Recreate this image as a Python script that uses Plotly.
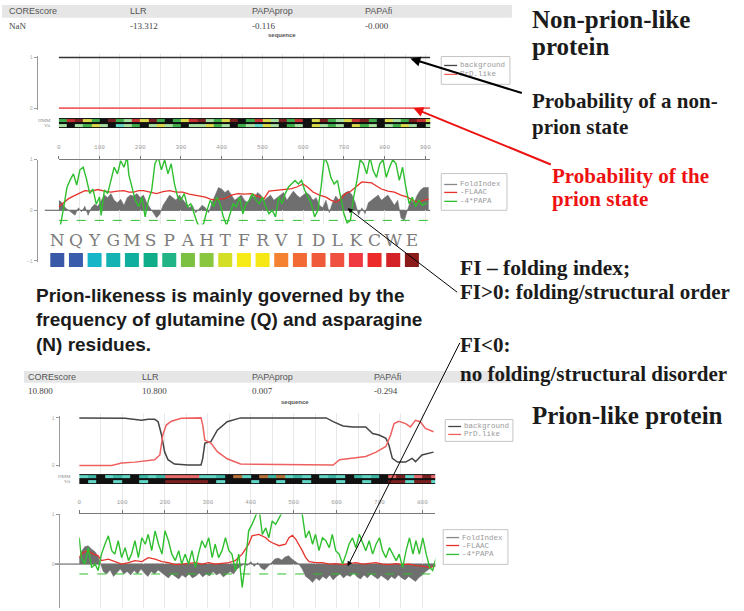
import plotly.graph_objects as go

W, H = 744, 611


def px(x):
    return x / W


def py(y):
    return 1 - y / H


def dom_x(a, b):
    return [a / W, b / W]


def dom_y(top, bottom):
    return [1 - bottom / H, 1 - top / H]


# ------------------------------------------------------------------ data
HEADER_LABELS = ["COREscore", "LLR", "PAPAprop", "PAPAfi"]
TOP_SCORES = ["NaN", "-13.312", "-0.116", "-0.000"]
BOTTOM_SCORES = ["10.800", "10.800", "0.007", "-0.294"]

SEQ_TICKS_TOP = [0, 100, 200, 300, 400, 500, 600, 700, 800, 900]
SEQ_TICKS_BOTTOM = [0, 100, 200, 300, 400, 500, 600, 700, 800]

LEGEND_STATE = ["background", "PrD.like"]
LEGEND_FOLD = ["FoldIndex", "-FLAAC", "-4*PAPA"]

# non-prion-like protein : state probabilities (residue, prob)
TOP_BACKGROUND = [(0, 1.0), (100, 1.0), (200, 1.0), (300, 1.0), (400, 1.0), (500, 1.0),
                  (600, 1.0), (700, 1.0), (800, 1.0), (900, 1.0), (912, 1.0)]
TOP_PRD = [(0, 0.0), (100, 0.0), (200, 0.0), (300, 0.0), (400, 0.0), (500, 0.0),
           (600, 0.0), (700, 0.0), (800, 0.0), (900, 0.0), (912, 0.0)]

# non-prion-like protein : FoldIndex, -FLAAC, -4*PAPA
TOP_FOLDINDEX = [
    (0, 0.2), (8, 0.15), (16, 0.05), (24, 0.0), (32, -0.05), (40, -0.1), (48, 0.05), (56, -0.03),
    (64, 0.08), (72, -0.1), (80, 0.05), (88, 0.12), (96, 0.08), (104, 0.2), (112, 0.3), (120, 0.25),
    (128, 0.33), (136, 0.2), (144, 0.15), (152, 0.22), (160, 0.1), (168, 0.25), (176, 0.3), (184, 0.28),
    (192, 0.33), (200, 0.25), (208, 0.3), (216, 0.15), (224, 0.05), (232, -0.05), (240, -0.15), (248, -0.08),
    (256, 0.1), (264, 0.2), (272, 0.3), (280, 0.25), (288, 0.2), (296, 0.3), (304, 0.22), (312, 0.15),
    (320, 0.05), (328, 0.1), (336, -0.05), (344, 0.02), (352, 0.1), (360, 0.05), (368, -0.05), (376, 0.15),
    (384, 0.3), (392, 0.45), (400, 0.42), (408, 0.35), (416, 0.4), (424, 0.3), (432, 0.2), (440, 0.25),
    (448, 0.3), (456, 0.2), (464, 0.15), (472, 0.3), (480, 0.25), (488, 0.35), (496, 0.3), (504, 0.2),
    (512, 0.25), (520, 0.3), (528, 0.2), (536, 0.25), (544, 0.3), (552, 0.35), (560, 0.2), (568, 0.3),
    (576, 0.38), (584, 0.3), (592, 0.25), (600, 0.3), (608, 0.35), (616, 0.3), (624, 0.2), (632, 0.25),
    (640, 0.1), (648, 0.05), (656, 0.2), (664, -0.05), (672, 0.15), (680, 0.28), (688, 0.2), (696, 0.3),
    (704, 0.35), (712, 0.38), (720, 0.3), (728, 0.15), (736, -0.1), (744, 0.05), (752, -0.07), (760, 0.15),
    (768, 0.2), (776, 0.25), (784, 0.3), (792, 0.2), (800, 0.25), (808, 0.3), (816, 0.2), (824, 0.1),
    (832, 0.2), (840, -0.15), (848, -0.2), (856, 0.0), (864, 0.2), (872, 0.15), (880, 0.3), (888, 0.4),
    (896, 0.45), (908, 0.45)]

TOP_FLAAC = [
    (0, 0.07), (12, 0.15), (24, 0.23), (36, 0.28), (48, 0.33), (64, 0.39), (80, 0.38), (96, 0.41),
    (112, 0.38), (128, 0.36), (144, 0.38), (160, 0.39), (172, 0.36), (184, 0.36), (196, 0.39), (208, 0.39),
    (224, 0.36), (240, 0.33), (256, 0.37), (272, 0.39), (288, 0.36), (304, 0.36), (320, 0.32), (336, 0.29),
    (348, 0.28), (360, 0.26), (372, 0.22), (384, 0.2), (396, 0.22), (408, 0.23), (424, 0.3), (440, 0.33),
    (456, 0.32), (472, 0.33), (488, 0.28), (504, 0.23), (516, 0.38), (528, 0.39), (544, 0.4), (560, 0.41),
    (572, 0.43), (584, 0.46), (600, 0.52), (612, 0.45), (624, 0.36), (640, 0.3), (656, 0.26), (668, 0.2),
    (680, 0.16), (692, 0.22), (704, 0.33), (716, 0.37), (728, 0.46), (744, 0.56), (756, 0.55), (768, 0.54),
    (780, 0.48), (792, 0.42), (808, 0.38), (824, 0.36), (840, 0.3), (856, 0.26), (872, 0.18), (884, 0.16),
    (896, 0.2), (908, 0.22)]

TOP_PAPA = [
    (0, -0.6), (4, -0.3), (12, 0.05), (20, 0.45), (28, 0.6), (36, 0.72), (44, 0.5), (52, 0.8),
    (60, 0.85), (68, 0.62), (76, 0.33), (84, 0.42), (92, 0.12), (100, 0.26), (104, -0.1), (112, 0.4),
    (120, 0.33), (128, 0.6), (136, 0.85), (144, 0.72), (152, 0.98), (160, 0.85), (168, 1.05), (172, 0.7),
    (180, 0.45), (188, 0.2), (196, 0.07), (204, 0.26), (212, -0.13), (220, 0.2), (228, 0.39), (236, 0.92),
    (244, 1.05), (252, 0.8), (260, 1.0), (268, 0.72), (276, 0.92), (284, 0.52), (292, 0.26), (300, 0.2),
    (308, 0.33), (316, 0.07), (324, 0.13), (332, -0.07), (340, -0.25), (348, -0.35), (356, -0.25), (364, 0.0),
    (372, 0.2), (380, 0.07), (388, 0.26), (396, 0.13), (404, -0.13), (412, -0.3), (420, -0.07), (428, 0.13),
    (436, 0.07), (444, 0.26), (452, -0.07), (460, 0.13), (468, 0.2), (476, 0.33), (484, 0.2), (492, 0.13),
    (500, 0.26), (508, 0.07), (516, -0.07), (524, 0.0), (532, -0.13), (540, 0.26), (548, 0.13), (556, 0.33),
    (564, 0.46), (572, 0.52), (580, 0.59), (588, 0.52), (596, 0.59), (604, 0.39), (612, 0.26), (620, 0.13),
    (628, -0.13), (636, 0.0), (644, 0.46), (652, 1.05), (660, 0.92), (668, 0.65), (676, 0.52), (684, 0.59),
    (692, 0.26), (700, -0.07), (708, -0.25), (716, -0.2), (724, 0.26), (732, 0.59), (740, 1.0), (748, 0.92),
    (756, 0.72), (764, 1.05), (772, 0.78), (780, 0.65), (788, 0.92), (796, 1.0), (804, 0.65), (812, 0.85),
    (820, 1.0), (828, 0.92), (836, 0.59), (844, 0.85), (852, 0.46), (860, 0.13), (868, 0.26), (876, 0.07),
    (884, 0.2), (892, 0.1), (904, 0.15)]

# prion-like protein : state probabilities
BOTTOM_BACKGROUND = [
    (0, 1.0), (53, 1.0), (107, 0.99), (145, 0.95), (161, 0.97), (176, 0.97), (184, 0.92), (192, 0.64),
    (199, 0.29), (207, 0.12), (222, 0.03), (253, 0.01), (284, 0.01), (288, 0.15), (293, 0.47), (307, 0.5),
    (322, 0.74), (345, 0.92), (376, 1.0), (576, 1.0), (592, 0.92), (615, 0.83), (638, 0.81), (668, 0.81),
    (684, 0.67), (699, 0.64), (715, 0.57), (722, 0.43), (730, 0.15), (742, 0.07), (761, 0.07), (776, 0.15),
    (784, 0.08), (799, 0.22), (826, 0.28)]
BOTTOM_PRD = [
    (0, 0.0), (76, 0.0), (99, 0.05), (130, 0.07), (176, 0.12), (188, 0.22), (195, 0.64), (203, 0.85),
    (215, 0.93), (238, 0.99), (284, 1.0), (288, 0.85), (293, 0.53), (307, 0.47), (322, 0.29), (345, 0.14),
    (376, 0.03), (592, 0.01), (607, 0.12), (638, 0.15), (668, 0.19), (692, 0.28), (715, 0.4), (726, 0.64),
    (734, 0.88), (745, 0.93), (761, 0.88), (772, 0.81), (784, 0.95), (795, 0.92), (807, 0.78), (826, 0.71)]

# prion-like protein : FoldIndex, -FLAAC, -4*PAPA
BOTTOM_FOLDINDEX = [
    (0, 0.1), (5, 0.25), (13, 0.35), (21, 0.37), (29, 0.3), (37, 0.25), (44, 0.15), (50, 0.0),
    (56, -0.15), (64, -0.2), (72, -0.12), (80, -0.25), (88, -0.18), (96, -0.1), (104, -0.2), (112, -0.15),
    (120, -0.22), (128, -0.13), (136, -0.2), (144, -0.1), (152, -0.18), (160, -0.25), (168, -0.15), (176, -0.2),
    (184, -0.12), (192, -0.18), (200, -0.24), (208, -0.28), (216, -0.2), (224, -0.25), (232, -0.3), (240, -0.22),
    (248, -0.27), (256, -0.2), (264, -0.28), (272, -0.24), (280, -0.18), (288, -0.26), (296, -0.2), (304, -0.24),
    (312, -0.15), (320, -0.22), (328, -0.18), (336, -0.26), (344, -0.2), (352, -0.15), (360, -0.2), (368, -0.1),
    (376, -0.05), (384, 0.0), (392, -0.03), (400, 0.05), (408, -0.05), (416, 0.03), (424, -0.08), (432, -0.12),
    (440, -0.05), (448, 0.03), (456, 0.1), (464, 0.12), (472, 0.08), (480, 0.14), (488, 0.17), (496, 0.1),
    (504, 0.05), (512, 0.0), (520, -0.1), (528, -0.25), (536, -0.3), (544, -0.37), (552, -0.28), (560, -0.33),
    (568, -0.25), (576, -0.3), (584, -0.22), (592, -0.32), (600, -0.25), (608, -0.2), (616, -0.28), (624, -0.22),
    (632, -0.25), (640, -0.18), (648, -0.26), (656, -0.3), (664, -0.22), (672, -0.28), (680, -0.2), (688, -0.25),
    (696, -0.3), (704, -0.23), (712, -0.28), (720, -0.33), (728, -0.25), (736, -0.3), (744, -0.22), (752, -0.28),
    (760, -0.32), (768, -0.25), (776, -0.3), (784, -0.35), (792, -0.27), (800, -0.22), (808, -0.15), (816, -0.1),
    (824, -0.05), (832, -0.05)]

BOTTOM_FLAAC = [
    (0, 0.13), (9, 0.23), (21, 0.27), (33, 0.2), (44, 0.17), (52, 0.07), (68, 0.1), (83, 0.05),
    (99, 0.0), (115, 0.03), (130, 0.07), (146, 0.05), (161, 0.13), (177, 0.1), (193, 0.05), (208, 0.03),
    (224, -0.01), (239, 0.0), (255, 0.01), (271, 0.03), (286, 0.0), (302, 0.03), (317, 0.0), (333, 0.01),
    (349, 0.03), (364, 0.07), (380, 0.2), (395, 0.4), (403, 0.57), (419, 0.6), (435, 0.53), (442, 0.47),
    (450, 0.43), (466, 0.37), (473, 0.39), (481, 0.4), (489, 0.53), (497, 0.58), (505, 0.5), (512, 0.4),
    (520, 0.27), (528, 0.13), (536, 0.05), (551, 0.03), (567, 0.03), (583, 0.0), (598, 0.01), (614, -0.01),
    (629, 0.01), (645, 0.03), (661, 0.0), (676, 0.01), (692, 0.03), (707, 0.0), (723, -0.01), (739, 0.01),
    (754, -0.01), (770, 0.0), (785, -0.03), (801, -0.04), (817, -0.07), (832, -0.03)]

BOTTOM_PAPA = [
    (0, 0.53), (5, 0.13), (13, 0.0), (21, 0.33), (29, -0.07), (37, 0.0), (44, -0.13), (52, 0.2),
    (60, 0.4), (68, 0.57), (76, 0.27), (83, 0.2), (91, 0.47), (99, 0.13), (107, 0.33), (115, 0.07),
    (122, 0.2), (130, 0.47), (138, 0.13), (146, 0.53), (154, 0.4), (161, 0.6), (169, 0.27), (177, 0.67),
    (185, 0.4), (193, 0.2), (200, 0.67), (208, 0.47), (216, 0.2), (224, 0.07), (232, 0.27), (239, 0.0),
    (247, 0.2), (255, 0.0), (263, 0.27), (271, -0.07), (278, 0.2), (286, 0.47), (294, 0.33), (302, 0.53),
    (310, 0.13), (317, 0.4), (325, 0.13), (333, 0.27), (341, 0.53), (349, 0.27), (356, 0.2), (364, -0.13),
    (372, 0.2), (380, -0.47), (388, 0.07), (395, 0.67), (403, 0.8), (411, 1.0), (419, 1.13), (427, 0.6),
    (435, 0.73), (442, 0.53), (450, 0.87), (458, 0.8), (466, 0.93), (473, 1.07), (481, 1.2), (489, 1.3),
    (497, 1.2), (505, 1.15), (512, 1.05), (520, 1.0), (528, 0.53), (536, 0.67), (544, 0.4), (551, 0.6),
    (559, 0.27), (567, 0.53), (575, 0.47), (583, 0.33), (590, 0.6), (598, 0.27), (606, 0.2), (614, 0.0),
    (622, 0.2), (629, 0.4), (637, 0.53), (645, 0.33), (653, 0.6), (661, 0.4), (668, 0.27), (676, 0.47),
    (684, 0.2), (692, 0.4), (700, 0.53), (707, 0.27), (715, 0.13), (723, 0.33), (731, 0.2), (739, 0.07),
    (746, 0.2), (754, -0.07), (762, 0.27), (770, 0.53), (778, 0.2), (785, 0.47), (793, 0.2), (801, 0.53),
    (809, 0.2), (817, -0.07), (824, -0.13), (832, 0.13)]

PAPA_THRESHOLD = -0.2

# HMM / Viterbi state bands, one code per 20-residue segment
TOP_HMM_CODES = "gdrygkrgldyrgkgydrlgyrkgdylrgdkyrglydrgkylgrdy"
TOP_VIT_CODES = "lklgylkclgklylgkllyglkglcylkglkylglkyglklgylkl"
BOTTOM_HMM_CODES = "ctkctcktctppppcctkockotoctckctcktctkprcprp"
BOTTOM_VIT_CODES = "kckkckkckkrrrrrkckkkckkckkckkkckkckkrrcrrc"
BAND_SEGMENT = 20

AA_LETTERS = ["N", "Q", "Y", "G", "M", "S", "P", "A", "H", "T",
              "F", "R", "V", "I", "D", "L", "K", "C", "W", "E"]
AA_COLORS = ["#3a58a8", "#3a5cac", "#16b6c8", "#14b2b2", "#10ae9e", "#10ad8a", "#20b486",
             "#7cc142", "#8ac63f", "#d4de26", "#f6ea17", "#f6e817", "#f58232", "#f26b35",
             "#f05a3a", "#ef5040", "#ee3a40", "#ec2a2a", "#d42027", "#8b1a1a"]

# ------------------------------------------------------------------ styles
BAND_KEYS = "kglydrcotp"
BAND_COLORS = ["#111111", "#3fae4a", "#a6dfa0", "#d9d94a", "#c93232", "#7a2020",
               "#62d6c6", "#b77236", "#3cb8a6", "#e86a6a"]
C_GRAY = "#6f6f6f"
C_RED = "#e5332b"
C_GREEN = "#2fbf2f"
AX_GRAY = "#9a9a9a"


def xs(pairs):
    return [p[0] for p in pairs]


def ys(pairs):
    return [p[1] for p in pairs]


def band_z(hmm, vit):
    n = len(hmm)
    blk = [0] * n
    return [blk,
            [BAND_KEYS.index(c) for c in vit],
            blk,
            [BAND_KEYS.index(c) for c in hmm],
            blk]


band_scale = [[i / (len(BAND_COLORS) - 1), c] for i, c in enumerate(BAND_COLORS)]
BAND_Y_EDGES = [0, 0.7, 4.2, 5.6, 9.2, 10]

fig = go.Figure()

# background grid subplots (empty)
fig.add_trace(go.Scatter(x=[], y=[], xaxis="x", yaxis="y"))
fig.add_trace(go.Scatter(x=[], y=[], xaxis="x2", yaxis="y2"))

# ---- top: state probabilities
fig.add_trace(go.Scatter(x=xs(TOP_BACKGROUND), y=ys(TOP_BACKGROUND), mode="lines",
                         line=dict(color="#333333", width=1.6), xaxis="x3", yaxis="y3"))
fig.add_trace(go.Scatter(x=xs(TOP_PRD), y=ys(TOP_PRD), mode="lines",
                         line=dict(color="#f06060", width=1.6), xaxis="x3", yaxis="y3"))

# ---- top: bands
fig.add_trace(go.Heatmap(z=band_z(TOP_HMM_CODES, TOP_VIT_CODES),
                         x=[i * BAND_SEGMENT for i in range(len(TOP_HMM_CODES) + 1)],
                         y=BAND_Y_EDGES, colorscale=band_scale, zmin=0, zmax=len(BAND_COLORS) - 1,
                         showscale=False, xaxis="x4", yaxis="y4", hoverinfo="skip"))

# ---- top: fold index panel
fig.add_trace(go.Scatter(x=xs(TOP_FOLDINDEX), y=ys(TOP_FOLDINDEX), mode="lines", fill="tozeroy",
                         fillcolor=C_GRAY, line=dict(color=C_GRAY, width=0.5), xaxis="x5", yaxis="y5"))
fig.add_trace(go.Scatter(x=xs(TOP_FLAAC), y=ys(TOP_FLAAC), mode="lines",
                         line=dict(color=C_RED, width=1.3), xaxis="x5", yaxis="y5"))
fig.add_trace(go.Scatter(x=xs(TOP_PAPA), y=ys(TOP_PAPA), mode="lines",
                         line=dict(color=C_GREEN, width=1.4), xaxis="x5", yaxis="y5"))
fig.add_trace(go.Scatter(x=[0, 912], y=[PAPA_THRESHOLD, PAPA_THRESHOLD], mode="lines",
                         line=dict(color=C_GREEN, width=1, dash="dash"), xaxis="x5", yaxis="y5"))

# ---- amino-acid colour key (pasted panel)
fig.add_trace(go.Scatter(x=[-0.75, 19.75, 19.75, -0.75, -0.75], y=[0, 0, 1, 1, 0], mode="lines",
                         fill="toself", fillcolor="white", line=dict(width=0),
                         xaxis="x6", yaxis="y6", hoverinfo="skip"))
fig.add_trace(go.Scatter(x=list(range(len(AA_LETTERS))), y=[0.62] * len(AA_LETTERS), mode="text",
                         text=AA_LETTERS,
                         textfont=dict(family="DejaVu Serif", size=17, color="#7c7c7c"),
                         xaxis="x6", yaxis="y6"))
fig.add_trace(go.Scatter(x=list(range(len(AA_LETTERS))), y=[0.25] * len(AA_LETTERS), mode="markers",
                         marker=dict(symbol="square", size=14, color=AA_COLORS, line=dict(width=0)),
                         xaxis="x6", yaxis="y6"))

# ---- bottom: state probabilities
fig.add_trace(go.Scatter(x=xs(BOTTOM_BACKGROUND), y=ys(BOTTOM_BACKGROUND), mode="lines",
                         line=dict(color="#444444", width=1.5), xaxis="x7", yaxis="y7"))
fig.add_trace(go.Scatter(x=xs(BOTTOM_PRD), y=ys(BOTTOM_PRD), mode="lines",
                         line=dict(color="#ee6060", width=1.5), xaxis="x7", yaxis="y7"))

# ---- bottom: bands
fig.add_trace(go.Heatmap(z=band_z(BOTTOM_HMM_CODES, BOTTOM_VIT_CODES),
                         x=[i * BAND_SEGMENT for i in range(len(BOTTOM_HMM_CODES) + 1)],
                         y=BAND_Y_EDGES, colorscale=band_scale, zmin=0, zmax=len(BAND_COLORS) - 1,
                         showscale=False, xaxis="x8", yaxis="y8", hoverinfo="skip"))

# ---- bottom: fold index panel
fig.add_trace(go.Scatter(x=xs(BOTTOM_FOLDINDEX), y=ys(BOTTOM_FOLDINDEX), mode="lines", fill="tozeroy",
                         fillcolor=C_GRAY, line=dict(color=C_GRAY, width=0.5), xaxis="x9", yaxis="y9"))
fig.add_trace(go.Scatter(x=xs(BOTTOM_FLAAC), y=ys(BOTTOM_FLAAC), mode="lines",
                         line=dict(color=C_RED, width=1.3), xaxis="x9", yaxis="y9"))
fig.add_trace(go.Scatter(x=xs(BOTTOM_PAPA), y=ys(BOTTOM_PAPA), mode="lines",
                         line=dict(color=C_GREEN, width=1.4), xaxis="x9", yaxis="y9"))
fig.add_trace(go.Scatter(x=[0, 830], y=[PAPA_THRESHOLD, PAPA_THRESHOLD], mode="lines",
                         line=dict(color=C_GREEN, width=1, dash="dash"), xaxis="x9", yaxis="y9"))

# ------------------------------------------------------------------ axes
hidden = dict(visible=False, showgrid=False, zeroline=False)
grid_x = dict(showgrid=True, gridcolor="#e8e8e8", gridwidth=1, dtick=50, tick0=0,
              showticklabels=False, ticks="", showline=False, zeroline=False)


def bracket_axis(dom, rng, pos, vals):
    return dict(domain=dom, range=rng, anchor="free", position=pos, showline=True,
                linecolor=AX_GRAY, linewidth=1, ticks="outside", ticklen=3, tickcolor=AX_GRAY,
                tickvals=vals, tickfont=dict(family="Liberation Mono", size=5, color="#b0b0b0"),
                showgrid=False, zeroline=False)


def seq_axis(dom, rng, vals, anchor):
    return dict(domain=dom, range=rng, side="top", anchor=anchor, showline=True,
                linecolor="#7a7a7a", linewidth=1.2, ticks="outside", ticklen=3, tickcolor="#7a7a7a",
                tickvals=vals, tickfont=dict(family="Liberation Mono", size=6, color="#9c9c9c"),
                ticklabelstandoff=4, showgrid=False, zeroline=False)


TOP_X = dom_x(57, 430)
BOT_X = dom_x(77.5, 435)

fig.update_layout(
    width=W, height=H, margin=dict(l=0, r=0, t=0, b=0),
    paper_bgcolor="white", plot_bgcolor="rgba(0,0,0,0)", showlegend=False,
    xaxis=dict(domain=TOP_X, range=[0, 912], anchor="y", **grid_x),
    yaxis=dict(domain=dom_y(52, 226), range=[0, 1], anchor="x", **hidden),
    xaxis2=dict(domain=BOT_X, range=[0, 830], anchor="y2", **grid_x),
    yaxis2=dict(domain=dom_y(414, 611), range=[0, 1], anchor="x2", **hidden),
    xaxis3=dict(domain=TOP_X, range=[0, 912], anchor="y3", **hidden),
    yaxis3=bracket_axis(dom_y(53.96, 109.04), [-0.04, 1.04], px(35), [0, 1]),
    xaxis4=dict(domain=TOP_X, range=[0, 912], anchor="y4", **hidden),
    yaxis4=dict(domain=dom_y(117, 127), range=[0, 10], anchor="x4", **hidden),
    xaxis5=seq_axis(TOP_X, [0, 912], SEQ_TICKS_TOP, "y5"),
    yaxis5=bracket_axis(dom_y(159, 262), [-1.02, 1], px(35), [-1, 0, 1]),
    xaxis6=dict(domain=dom_x(41.45, 425.6), range=[-0.75, 19.75], anchor="y6", **hidden),
    yaxis6=dict(domain=dom_y(224, 272), range=[0, 1], anchor="x6", **hidden),
    xaxis7=dict(domain=BOT_X, range=[0, 830], anchor="y7", **hidden),
    yaxis7=bracket_axis(dom_y(417.4, 469.2), [-0.04, 1.04], px(57), [0, 1]),
    xaxis8=dict(domain=BOT_X, range=[0, 830], anchor="y8", **hidden),
    yaxis8=dict(domain=dom_y(476, 486), range=[0, 10], anchor="x8", **hidden),
    xaxis9=seq_axis(BOT_X, [0, 830], SEQ_TICKS_BOTTOM, "y9"),
    yaxis9=bracket_axis(dom_y(516.7, 611), [-0.886, 1], px(57), [-1, 0, 1]),
)

shapes = []
# header bands
shapes.append(dict(type="rect", xref="paper", yref="paper", x0=px(0), x1=px(512), y0=py(16), y1=py(3),
                   fillcolor="#e6e6e6", line=dict(width=0), layer="below"))
shapes.append(dict(type="rect", xref="paper", yref="paper", x0=px(22), x1=px(512), y0=py(384), y1=py(372),
                   fillcolor="#e6e6e6", line=dict(width=0), layer="below"))
# zero lines
shapes.append(dict(type="line", xref="paper", yref="y5", x0=px(43), x1=px(430), y0=0, y1=0,
                   line=dict(color="#555555", width=1), layer="below"))
shapes.append(dict(type="line", xref="paper", yref="y9", x0=px(53), x1=px(435), y0=0, y1=0,
                   line=dict(color="#555555", width=1), layer="below"))

annotations = []


def text(t, x, y, size, color="#1b1b1b", family="Liberation Serif", bold=True, anchor="left"):
    annotations.append(dict(text=("<b>%s</b>" % t) if bold else t, x=px(x), y=py(y),
                            xref="paper", yref="paper", xanchor=anchor, yanchor="middle",
                            xshift=-2 if anchor == "left" else 0, borderpad=0,
                            showarrow=False, font=dict(family=family, size=size, color=color)))


# legend boxes
def legend_box(x0, x1, y0, y1, rows, labels, colors):
    shapes.append(dict(type="rect", xref="paper", yref="paper", x0=px(x0), x1=px(x1), y0=py(y1), y1=py(y0),
                       line=dict(color="#c4c4c4", width=1), fillcolor="white"))
    for r, lab, col in zip(rows, labels, colors):
        shapes.append(dict(type="line", xref="paper", yref="paper", x0=px(x0 + 3), x1=px(x0 + 16),
                           y0=py(r), y1=py(r), line=dict(color=col, width=1.3)))
        text(lab, x0 + 20, r, 7.5, color="#9a9a9a", family="Liberation Mono", bold=False)


legend_box(441, 510, 55, 83, [64, 73], LEGEND_STATE, ["#444444", "#f06060"])
legend_box(441, 507, 173, 210, [184, 192, 201], LEGEND_FOLD, ["#888888", C_RED, C_GREEN])
legend_box(445, 513, 421, 443, [428, 436], LEGEND_STATE, ["#444444", "#f06060"])
legend_box(443, 508, 532, 567, [540, 548, 557], LEGEND_FOLD, ["#888888", C_RED, C_GREEN])

# header tables
TOP_COL_X = [8, 130, 252, 365]
BOT_COL_X = [27, 142, 252, 375]
for lab, val, x in zip(HEADER_LABELS, TOP_SCORES, TOP_COL_X):
    text(lab, x, 9.5, 9, color="#555555", family="Liberation Sans", bold=False)
    text(val, x, 24, 9, color="#444444", family="Liberation Serif", bold=False)
for lab, val, x in zip(HEADER_LABELS, BOTTOM_SCORES, BOT_COL_X):
    text(lab, x, 378, 9, color="#555555", family="Liberation Sans", bold=False)
    text(val, x, 392, 9, color="#444444", family="Liberation Serif", bold=False)
text("sequence", 281, 33, 6, color="#555555", family="Liberation Sans", anchor="center")
text("sequence", 294, 403, 6, color="#555555", family="Liberation Sans", anchor="center")

# band labels
for lab, y in (("HMM", 119), ("Vit", 124.5)):
    text(lab, 50, y, 5, color="#888888", family="Liberation Serif", bold=False, anchor="right")
    text(lab, 70, y + 359, 5, color="#888888", family="Liberation Serif", bold=False, anchor="right")

# explanatory texts
text("Non-prion-like", 533, 18, 25)
text("protein", 533, 45, 25)
text("Probability of a non-", 533, 100, 21)
text("prion state", 533, 126, 21)
text("Probability of the", 553, 175, 21, color="#ee1111")
text("prion state", 553, 199, 21, color="#ee1111")
text("FI \u2013 folding index;", 461, 268, 21.5)
text("FI&gt;0: folding/structural order", 461, 292, 21)
text("FI&lt;0:", 461, 346, 21)
text("no folding/structural disorder", 461, 375, 21)
text("Prion-like protein", 533, 417, 25)
text("Prion-likeness is mainly governed by the", 35, 296, 19, family="Liberation Sans")
text("frequency of glutamine (Q) and asparagine", 35, 320, 19, family="Liberation Sans")
text("(N) residues.", 35, 345, 19, family="Liberation Sans")


def arrow(hx, hy, tx, ty, color, width, head):
    annotations.append(dict(x=px(hx), y=py(hy), xref="paper", yref="paper", ax=tx - hx, ay=ty - hy,
                            axref="pixel", ayref="pixel", text="", showarrow=True, arrowhead=head,
                            arrowsize=1, arrowwidth=width, arrowcolor=color, standoff=0))


arrow(410, 57, 523, 92, "#000000", 2, 2)
arrow(413, 107, 552, 164, "#ee1111", 2, 2)
arrow(347, 208, 458, 293, "#000000", 1, 2)
arrow(347, 569, 460, 344, "#000000", 1, 2)

fig.update_layout(shapes=shapes, annotations=annotations)
fig.write_html("out.html", config={"displayModeBar": False},
               post_script="document.body.style.margin='0px';document.body.style.padding='0px';")
